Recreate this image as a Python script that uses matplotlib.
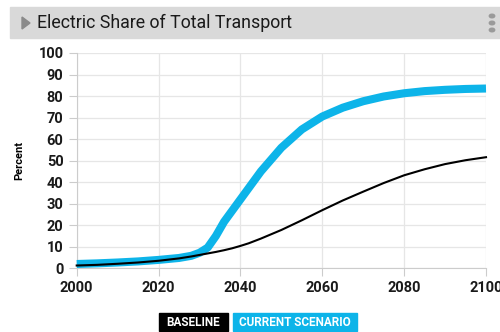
import matplotlib
matplotlib.use("Agg")
import matplotlib.pyplot as plt
from matplotlib.patches import Rectangle, Polygon, Circle

# series values (percent of total transport that is electric)
years = [2000, 2005, 2010, 2015, 2020, 2025, 2028, 2030, 2032, 2034, 2036, 2038,
         2040, 2042, 2045, 2050, 2055, 2060, 2065, 2070, 2075, 2080, 2085, 2090, 2095, 2100]
current = [2.0, 2.3, 2.7, 3.2, 3.9, 4.8, 5.8, 7.2, 9.6, 15.0, 21.6, 26.8,
           32.0, 37.2, 45.0, 56.0, 64.5, 70.5, 74.6, 77.6, 79.8, 81.3, 82.3, 82.9, 83.3, 83.5]
baseline = [1.3, 1.6, 2.1, 2.7, 3.5, 4.6, 5.5, 6.2, 6.9, 7.6, 8.4, 9.3,
            10.4, 11.6, 13.8, 17.8, 22.3, 27.0, 31.5, 35.6, 39.6, 43.2, 46.0, 48.4, 50.2, 51.6]

xticks = [2000, 2020, 2040, 2060, 2080, 2100]
yticks = list(range(0, 101, 10))

title = "Electric Share of Total Transport"
blue = "#0db4e9"
plt.rcParams["font.family"] = ["Roboto", "DejaVu Sans"]

fig = plt.figure(figsize=(5, 3.32), dpi=100)
fig.patch.set_facecolor("white")

# header bar
fig.patches.append(Rectangle((10 / 500, 1 - 38 / 332), 490 / 500, 31 / 332,
                             transform=fig.transFigure, color="#d9d9d9", zorder=0))
fig.patches.append(Polygon([(22 / 500, 1 - 17 / 332), (22 / 500, 1 - 29 / 332), (30 / 500, 1 - 23 / 332)],
                           closed=True, transform=fig.transFigure, color="#8a8a8a"))
for yy in (16, 23, 30):
    fig.patches.append(Circle((492 / 500, 1 - yy / 332), 1.8 / 332, transform=fig.transFigure,
                              color="#9a9a9a"))
fig.text(37 / 500, 1 - 23 / 332, title, fontsize=12.8, color="#1a1a1a", va="center", ha="left")

ax = fig.add_axes([76.7 / 500, 1 - 268.3 / 332, (486 - 76.7) / 500, (268.3 - 53) / 332])
ax.plot(years, current, color=blue, lw=5.8, solid_capstyle="butt", solid_joinstyle="round",
        clip_on=False, zorder=3)
ax.plot(years, baseline, color="black", lw=1.5, solid_joinstyle="round", clip_on=False, zorder=4)

ax.set_xlim(2000, 2100)
ax.set_ylim(0, 100)
ax.set_xticks(xticks)
ax.set_yticks(yticks)
ax.tick_params(axis="both", colors="#cccccc", labelcolor="#1a1a1a", labelsize=10.5, length=6)
for lab in ax.get_xticklabels() + ax.get_yticklabels():
    lab.set_fontweight("bold")
ax.grid(True, color="#e6e6e6", lw=0.9)
ax.set_axisbelow(True)
for side in ("top", "right"):
    ax.spines[side].set_visible(False)
for side in ("left", "bottom"):
    ax.spines[side].set_color("#cccccc")
ax.set_ylabel("Percent", fontsize=8, fontweight="bold", labelpad=10)

# legend chips
fig.patches.append(Rectangle((159 / 500, 1 - 331 / 332), 69 / 500, 18 / 332,
                             transform=fig.transFigure, color="black"))
fig.patches.append(Rectangle((233 / 500, 1 - 331 / 332), 124 / 500, 18 / 332,
                             transform=fig.transFigure, color=blue))
fig.text(193.5 / 500, 1 - 322 / 332, "BASELINE", color="white", fontsize=8.5, fontweight="bold",
         ha="center", va="center")
fig.text(295 / 500, 1 - 322 / 332, "CURRENT SCENARIO", color="white", fontsize=8.5, fontweight="bold",
         ha="center", va="center")

fig.savefig("out.png", dpi=100)
